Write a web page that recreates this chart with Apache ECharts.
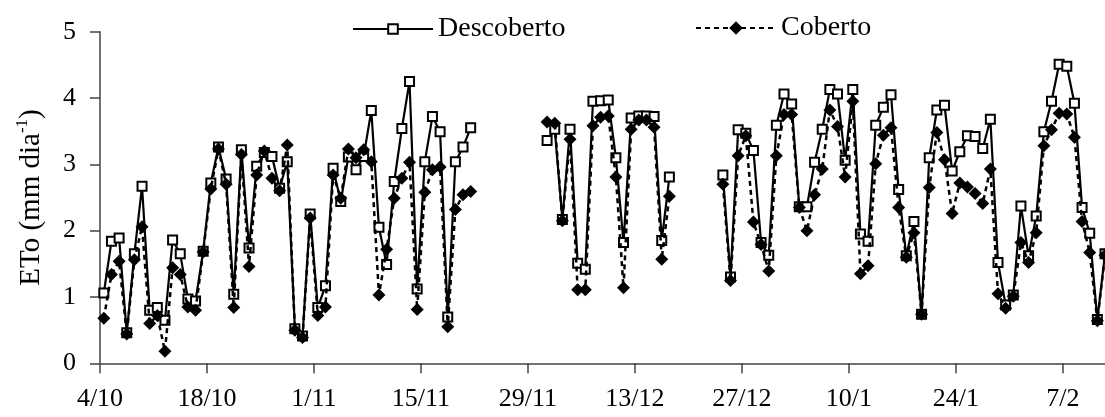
<!DOCTYPE html>
<html>
<head>
<meta charset="utf-8">
<script src="https://cdn.jsdelivr.net/npm/echarts@6/dist/echarts.min.js"></script>
<style>
html,body{margin:0;padding:0;background:#fff;}
#c{width:1105px;height:417px;}
</style>
</head>
<body>
<div id="c"></div>
<script>
// Day index 0 = 4/10; one value per day (null = no measurement)
var tickLabels = ['4/10','18/10','1/11','15/11','29/11','13/12','27/12','10/1','24/1','7/2'];
var tickStepDays = 14;

var descoberto = [
  1.06,1.84,1.89,0.46,1.65,2.67,0.80,0.84,0.65,1.86,
  1.65,0.97,0.94,1.69,2.72,3.26,2.78,1.04,3.22,1.74,
  2.97,3.18,3.12,2.64,3.04,0.52,0.41,2.25,0.84,1.17,
  2.94,2.44,3.11,2.92,3.12,3.81,2.05,1.49,2.74,3.54,
  4.25,1.12,3.04,3.72,3.49,0.70,3.04,3.26,3.55,null,
  null,null,null,null,null,null,null,null,3.36,3.53,
  2.17,3.53,1.51,1.42,3.95,3.96,3.97,3.10,1.82,3.70,
  3.73,3.73,3.72,1.85,2.81,null,null,null,null,null,
  null,2.84,1.30,3.52,3.47,3.21,1.82,1.63,3.59,4.06,
  3.91,2.36,2.36,3.03,3.53,4.13,4.06,3.06,4.13,1.95,
  1.84,3.59,3.86,4.05,2.62,1.62,2.14,0.74,3.10,3.82,
  3.89,2.90,3.19,3.43,3.42,3.24,3.68,1.52,0.88,1.03,
  2.37,1.62,2.22,3.49,3.95,4.51,4.48,3.92,2.35,1.96,
  0.66,1.65
];
var coberto = [
  0.68,1.34,1.54,0.44,1.56,2.06,0.60,0.72,0.18,1.44,
  1.34,0.85,0.80,1.68,2.63,3.23,2.70,0.84,3.15,1.46,
  2.84,3.20,2.79,2.60,3.29,0.50,0.39,2.19,0.72,0.85,
  2.84,2.49,3.23,3.10,3.22,3.04,1.03,1.72,2.49,2.79,
  3.03,0.81,2.58,2.92,2.96,0.55,2.32,2.54,2.59,null,
  null,null,null,null,null,null,null,null,3.64,3.62,
  2.15,3.38,1.11,1.11,3.58,3.71,3.73,2.81,1.14,3.53,
  3.67,3.67,3.56,1.57,2.52,null,null,null,null,null,
  null,2.70,1.25,3.13,3.43,2.13,1.79,1.39,3.13,3.75,
  3.75,2.35,2.00,2.54,2.93,3.82,3.57,2.81,3.95,1.35,
  1.47,3.01,3.44,3.55,2.35,1.60,1.97,0.74,2.65,3.48,
  3.07,2.26,2.72,2.66,2.56,2.41,2.93,1.05,0.83,1.01,
  1.82,1.52,1.97,3.28,3.52,3.77,3.76,3.41,2.14,1.67,
  0.64,1.63
];

function toPoints(arr){ return arr.map(function(v,i){ return [i + 0.5, v]; }); }

var FONT = "'Liberation Serif','Times New Roman',serif";
var chart = echarts.init(document.getElementById('c'), null, {renderer:'canvas'});
chart.setOption({
  animation:false,
  backgroundColor:'#fff',
  textStyle:{fontFamily:FONT,color:'#000'},
  grid:{left:100,right:-3,top:31.7,bottom:53.7,containLabel:false},
  legend:[
    {data:['Descoberto'],left:352,top:15,padding:0,itemWidth:80,itemHeight:12,itemGap:0,
     textStyle:{fontFamily:FONT,fontSize:28,color:'#000'}},
    {data:['Coberto'],left:695,top:14,padding:0,itemWidth:80,itemHeight:17,itemGap:0,
     textStyle:{fontFamily:FONT,fontSize:28,color:'#000'}}
  ],
  xAxis:{
    type:'value',min:0,max:131.5,interval:tickStepDays,
    axisLine:{show:true,lineStyle:{color:'#444',width:1.5}},
    axisTick:{show:true,inside:false,length:10,lineStyle:{color:'#444',width:1.5}},
    axisLabel:{fontFamily:FONT,fontSize:26,color:'#000',margin:23,showMaxLabel:false,
      formatter:function(v){ var k=Math.round(v/tickStepDays); return (Math.abs(v-k*tickStepDays)<1e-6 && tickLabels[k]!==undefined)?tickLabels[k]:''; }},
    splitLine:{show:false}
  },
  yAxis:{
    type:'value',min:0,max:5,interval:1,
    name:'{a|ETo (mm dia}{s|-1}{a|)}',
    nameLocation:'middle',nameGap:54,nameRotate:90,
    nameTextStyle:{fontFamily:FONT,color:'#000',
      rich:{a:{fontFamily:FONT,fontSize:29,color:'#000',lineHeight:32,verticalAlign:'bottom'},
            s:{fontFamily:FONT,fontSize:17,color:'#000',lineHeight:32,verticalAlign:'top',padding:[0,0,15,0]}}},
    axisLine:{show:true,lineStyle:{color:'#444',width:1.5}},
    axisTick:{show:true,inside:false,length:10,lineStyle:{color:'#444',width:1.5}},
    axisLabel:{fontFamily:FONT,fontSize:26,color:'#000',margin:24},
    splitLine:{show:false}
  },
  series:[
    {name:'Descoberto',type:'line',data:toPoints(descoberto),connectNulls:false,clip:false,
     symbol:'rect',symbolSize:9,showAllSymbol:true,
     itemStyle:{color:'#fff',borderColor:'#000',borderWidth:2},
     lineStyle:{color:'#000',width:2.2,type:'solid'},z:2},
    {name:'Coberto',type:'line',data:toPoints(coberto),connectNulls:false,clip:false,
     symbol:'diamond',symbolSize:13,showAllSymbol:true,
     itemStyle:{color:'#000',borderColor:'#000',borderWidth:0},
     lineStyle:{color:'#000',width:2.5,type:[5,4]},z:3}
  ]
});
</script>
</body>
</html>
